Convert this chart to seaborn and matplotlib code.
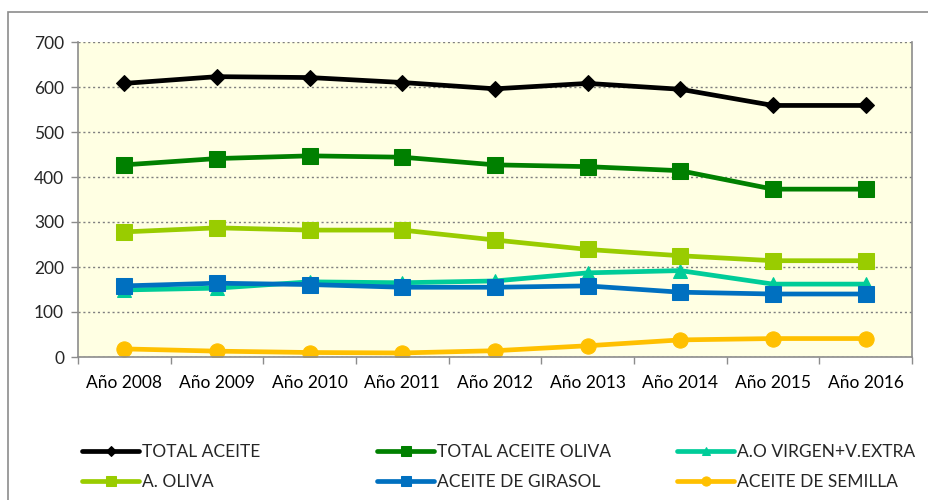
import pandas as pd
import matplotlib
matplotlib.use('Agg')
import matplotlib.pyplot as plt
import seaborn as sns
from matplotlib.patches import Rectangle

years = ['Año 2008', 'Año 2009', 'Año 2010', 'Año 2011', 'Año 2012',
         'Año 2013', 'Año 2014', 'Año 2015', 'Año 2016']

total_aceite = [608, 623, 621, 610, 596, 608, 595, 559, 559]
total_oliva = [427, 441, 447, 444, 427, 423, 414, 373, 373]
virgen_extra = [149, 153, 167, 165, 169, 187, 192, 162, 162]
a_oliva = [278, 287, 282, 282, 260, 239, 225, 214, 214]
girasol = [158, 164, 161, 155, 155, 158, 144, 140, 140]
semilla = [18, 13, 10, 9, 14, 25, 38, 41, 41]

series_names = ['TOTAL ACEITE', 'TOTAL ACEITE OLIVA', 'A.O VIRGEN+V.EXTRA',
                'A. OLIVA', 'ACEITE DE GIRASOL', 'ACEITE DE SEMILLA']
series_values = [total_aceite, total_oliva, virgen_extra, a_oliva, girasol, semilla]
colors = ['#000000', '#008000', '#00CC99', '#99CC00', '#0070C0', '#FFC000']
markers = ['D', 's', '^', 's', 's', 'o']
msizes = [8, 11, 10, 11, 11, 11]

sns.set_theme(style='white')
plt.rcParams['font.family'] = ['Lato', 'DejaVu Sans']

fig = plt.figure(figsize=(9.29, 5), dpi=100)
ax = fig.add_axes([78 / 929, 143 / 500, 834 / 929, 315 / 500])
ax.set_facecolor('#FFFFE3')

# outer chart border
fig.patches.append(Rectangle((8 / 929, -0.05), 1.2, 1.026,
                             transform=fig.transFigure, fill=False,
                             edgecolor='#8C8C8C', linewidth=1.2))

xpos = list(range(len(years)))
for name, vals, c, m, ms in zip(series_names, series_values, colors, markers, msizes):
    sns.lineplot(x=xpos, y=vals, ax=ax, color=c, linewidth=3.4, marker=m,
                 markersize=ms, markeredgecolor=c, label=name)

ax.set_xlim(-0.5, 8.5)
ax.set_ylim(0, 700)
ax.set_yticks(range(0, 701, 100))
ax.set_xticks(xpos)
ax.set_xticklabels(years)
ax.set_xticks([i - 0.5 for i in range(len(years) + 1)], minor=True)
ax.tick_params(axis='x', which='major', length=0, labelsize=12.5, pad=13, colors='black')
ax.tick_params(axis='x', which='minor', length=5, width=1, color='#8C8C8C', direction='out', bottom=True)
ax.tick_params(axis='y', length=5, width=1, color='#8C8C8C', direction='out', left=True,
               labelsize=12.5, pad=5)
ax.yaxis.grid(True, linestyle=(0, (1.5, 2)), color='#7F7F7F', linewidth=1)
ax.set_axisbelow(True)
for side in ['left', 'right', 'bottom']:
    ax.spines[side].set_color('#8C8C8C')
    ax.spines[side].set_linewidth(1.2)
ax.spines['top'].set_visible(False)
ax.set_xlabel('')
ax.set_ylabel('')

handles, labels = ax.get_legend_handles_labels()
ax.legend_.remove()
col_x = [82, 377, 677]
for k, x0 in enumerate(col_x):
    idx = [k, k + 3]
    fig.legend([handles[i] for i in idx], [labels[i] for i in idx],
               loc='center left', bbox_to_anchor=(x0 / 929, 1 - 467 / 500), ncol=1,
               frameon=False, fontsize=12.5, handlelength=3.3, handletextpad=0.15,
               labelspacing=0.8, markerscale=0.6, borderpad=0, borderaxespad=0)

fig.savefig('out.png', dpi=100)
